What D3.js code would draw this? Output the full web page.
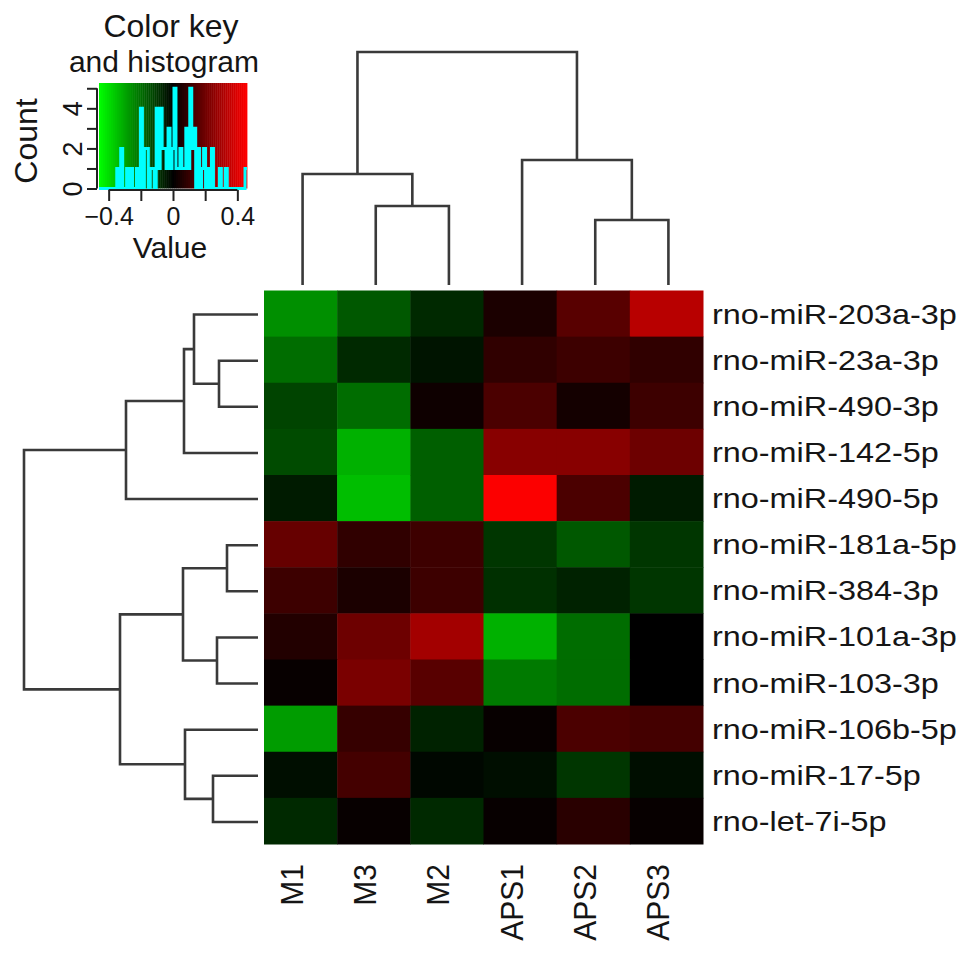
<!DOCTYPE html>
<html>
<head>
<meta charset="utf-8">
<script src="https://cdn.jsdelivr.net/npm/d3@7"></script>
<style>
  body { margin: 0; background: #fff; }
  text { font-family: "Liberation Sans", Arial, Helvetica, sans-serif; fill: #151515; }
</style>
</head>
<body>
<div id="chart"></div>
<script>
// column / row order as shown after clustering
const samples = ["M1", "M3", "M2", "APS1", "APS2", "APS3"];
const mirnas = [
  "rno-miR-203a-3p", "rno-miR-23a-3p", "rno-miR-490-3p", "rno-miR-142-5p",
  "rno-miR-490-5p", "rno-miR-181a-5p", "rno-miR-384-3p", "rno-miR-101a-3p",
  "rno-miR-103-3p", "rno-miR-106b-5p", "rno-miR-17-5p", "rno-let-7i-5p"
];

// scaled expression, one row per miRNA, columns in `samples` order
const values = [
  [-0.253, -0.162, -0.072,  0.047,  0.159,  0.337],
  [-0.191, -0.072, -0.036,  0.083,  0.115,  0.081],
  [-0.123, -0.198,  0.027,  0.130,  0.036,  0.115],
  [-0.133, -0.325, -0.173,  0.245,  0.245,  0.202],
  [-0.045, -0.346, -0.173,  0.460,  0.135, -0.043],
  [ 0.180,  0.087,  0.115, -0.101, -0.162, -0.103],
  [ 0.108,  0.043,  0.108, -0.087, -0.065, -0.101],
  [ 0.058,  0.202,  0.289, -0.325, -0.192, -0.003],
  [ 0.015,  0.217,  0.162, -0.217, -0.201,  0.002],
  [-0.278,  0.101, -0.065,  0.018,  0.130,  0.127],
  [-0.022,  0.127, -0.018, -0.022, -0.093, -0.025],
  [-0.068,  0.018, -0.072,  0.018,  0.076,  0.016]
];

// dendrograms (merge heights, arbitrary units)
const colTree = {h: 2.33, children: [
  {h: 1.11, children: [{name: "M1"}, {h: 0.79, children: [{name: "M3"}, {name: "M2"}]}]},
  {h: 1.25, children: [{name: "APS1"}, {h: 0.65, children: [{name: "APS2"}, {name: "APS3"}]}]}
]};
const rowTree = {h: 2.34, children: [
  {h: 1.32, children: [
    {h: 0.74, children: [
      {h: 0.64, children: [{name: "rno-miR-203a-3p"},
        {h: 0.39, children: [{name: "rno-miR-23a-3p"}, {name: "rno-miR-490-3p"}]}]},
      {name: "rno-miR-142-5p"}]},
    {name: "rno-miR-490-5p"}]},
  {h: 1.38, children: [
    {h: 0.75, children: [
      {h: 0.31, children: [{name: "rno-miR-181a-5p"}, {name: "rno-miR-384-3p"}]},
      {h: 0.41, children: [{name: "rno-miR-101a-3p"}, {name: "rno-miR-103-3p"}]}]},
    {h: 0.73, children: [{name: "rno-miR-106b-5p"},
      {h: 0.45, children: [{name: "rno-miR-17-5p"}, {name: "rno-let-7i-5p"}]}]}]}
]};

// colour key
const keyRange = [-0.46, 0.46];
const nColors = 75;
const valueTicks = [-0.4, -0.2, 0, 0.2, 0.4];
const valueLabels = {"-0.4": "\u22120.4", "0": "0", "0.4": "0.4"};

const width = 969, height = 954;

const svg = d3.select("#chart").append("svg")
  .attr("width", width)
  .attr("height", height);

const color = d3.scaleLinear()
  .domain([keyRange[0], 0, keyRange[1]])
  .range(["#00ff00", "#000000", "#ff0000"]);

// discrete colours like greenred(75)
const breaks = d3.range(nColors + 1).map(i => keyRange[0] + i * (keyRange[1] - keyRange[0]) / nColors);
const binColor = v => {
  let i = Math.min(nColors - 1, Math.max(0, Math.floor((v - keyRange[0]) / (breaks[1] - breaks[0]))));
  return color((breaks[i] + breaks[i + 1]) / 2);
};

const x = d3.scaleBand().domain(samples).range([264, 703]);
const y = d3.scaleBand().domain(mirnas).range([290.5, 844]);

// heatmap cells
svg.append("g")
  .selectAll("g")
  .data(values)
  .join("g")
    .attr("transform", (d, i) => `translate(0,${y(mirnas[i])})`)
  .selectAll("rect")
  .data(d => d)
  .join("rect")
    .attr("x", (d, j) => x(samples[j]))
    .attr("width", x.bandwidth() + 0.5)
    .attr("height", y.bandwidth() + 0.5)
    .attr("fill", d => binColor(d));

// dendrograms
function layoutTree(tree, pos) {
  const root = d3.hierarchy(tree);
  root.eachAfter(n => {
    n.h = n.data.h || 0;
    n.pos = n.children ? d3.mean(n.children, c => c.pos) : pos(n.data.name);
  });
  return root;
}

const colRoot = layoutTree(colTree, name => x(name) + x.bandwidth() / 2 + 2);
const colH = d3.scaleLinear().domain([0, colTree.h]).range([285, 52]);
svg.append("g")
  .attr("fill", "none")
  .attr("stroke", "#3a3a3a")
  .attr("stroke-width", 2.6)
  .selectAll("path")
  .data(colRoot.descendants().filter(n => n.children))
  .join("path")
    .attr("d", n => {
      const [a, b] = n.children;
      return `M${a.pos},${colH(a.h)}V${colH(n.h)}H${b.pos}V${colH(b.h)}`;
    });

const rowRoot = layoutTree(rowTree, name => y(name) + y.bandwidth() / 2 + 1);
const rowH = d3.scaleLinear().domain([0, rowTree.h]).range([258, 24]);
svg.append("g")
  .attr("fill", "none")
  .attr("stroke", "#3a3a3a")
  .attr("stroke-width", 2.6)
  .selectAll("path")
  .data(rowRoot.descendants().filter(n => n.children))
  .join("path")
    .attr("d", n => {
      const [a, b] = n.children;
      return `M${rowH(a.h)},${a.pos}H${rowH(n.h)}V${b.pos}H${rowH(b.h)}`;
    });

// row labels
svg.append("g")
  .attr("font-size", 27)
  .selectAll("text")
  .data(mirnas)
  .join("text")
    .attr("transform", d => `translate(712,${y(d) + y.bandwidth() / 2 + 10}) scale(1.2,1)`)
    .text(d => d);

// column labels
svg.append("g")
  .attr("font-size", 30)
  .attr("text-anchor", "end")
  .selectAll("text")
  .data(samples)
  .join("text")
    .attr("transform", d => `translate(${x(d) + x.bandwidth() / 2 + 2.5},864) scale(1.07,1) rotate(-90)`)
    .text(d => d);

/////////////////////////////////////////////////////////
//////////////// Colour key and histogram ///////////////
/////////////////////////////////////////////////////////

const kx = d3.scaleLinear().domain(keyRange).range([99, 247]);
const ky = d3.scaleLinear().domain([0, 1]).range([188.5, 83]);

svg.append("g")
  .selectAll("rect")
  .data(d3.range(nColors))
  .join("rect")
    .attr("x", i => kx(breaks[i]))
    .attr("y", ky(1))
    .attr("width", i => kx(breaks[i + 1]) - kx(breaks[i]) + 0.4)
    .attr("height", ky(0) - ky(1))
    .attr("fill", i => color((breaks[i] + breaks[i + 1]) / 2));

// histogram of all cell values, same breaks as the colours
const bins = d3.bin()
  .domain(keyRange)
  .thresholds(breaks.slice(1, -1))(values.flat());
const counts = bins.map(b => b.length);
const maxCount = d3.max(counts);
const hy = c => ky(c / maxCount * 0.95);
const steps = breaks.map((b, i) => [kx(b), hy(counts[Math.min(i, counts.length - 1)])]);

svg.append("path")
  .datum(steps)
  .attr("fill", "none")
  .attr("stroke", "#00ffff")
  .attr("stroke-width", 3)
  .attr("d", d3.line().curve(d3.curveStepAfter));

// value axis
const xAxis = svg.append("g")
  .attr("transform", `translate(0,190)`)
  .call(d3.axisBottom(kx)
    .tickValues(valueTicks)
    .tickSize(11)
    .tickSizeOuter(0)
    .tickPadding(6)
    .tickFormat(d => valueLabels[String(d)] || ""));
xAxis.select(".domain").attr("d", `M${kx(valueTicks[0])},0H${kx(valueTicks[valueTicks.length - 1])}`);
xAxis.attr("font-size", 25).attr("font-family", null);
xAxis.selectAll("line, .domain").attr("stroke", "#222").attr("stroke-width", 2);
xAxis.selectAll("text").attr("fill", "#151515");

// count axis
const countTicks = d3.range(0, maxCount + 1);
const yAxis = svg.append("g")
  .attr("transform", `translate(97,0)`)
  .call(d3.axisLeft(d3.scaleLinear().domain([0, maxCount]).range([hy(0), hy(maxCount)]))
    .tickValues(countTicks)
    .tickSize(10)
    .tickSizeOuter(0)
    .tickFormat(d => d % 2 === 0 ? d : ""));
yAxis.select(".domain").attr("d", `M0,${hy(0)}V${hy(maxCount)}`);
yAxis.attr("font-size", 27).attr("font-family", null);
yAxis.selectAll("line, .domain").attr("stroke", "#222").attr("stroke-width", 2);
yAxis.selectAll("text")
  .attr("x", null)
  .attr("dy", null)
  .attr("text-anchor", "middle")
  .attr("fill", "#151515")
  .attr("transform", "translate(-15,0) rotate(-90)");

// key titles
svg.append("text")
  .attr("x", 171).attr("y", 37)
  .attr("font-size", 32)
  .attr("text-anchor", "middle")
  .text("Color key");
svg.append("text")
  .attr("x", 164).attr("y", 72)
  .attr("font-size", 30)
  .attr("text-anchor", "middle")
  .text("and histogram");
svg.append("text")
  .attr("x", 170).attr("y", 257.5)
  .attr("font-size", 30)
  .attr("text-anchor", "middle")
  .text("Value");
svg.append("text")
  .attr("transform", "translate(37,141) rotate(-90)")
  .attr("font-size", 32)
  .attr("text-anchor", "middle")
  .text("Count");
</script>
</body>
</html>
